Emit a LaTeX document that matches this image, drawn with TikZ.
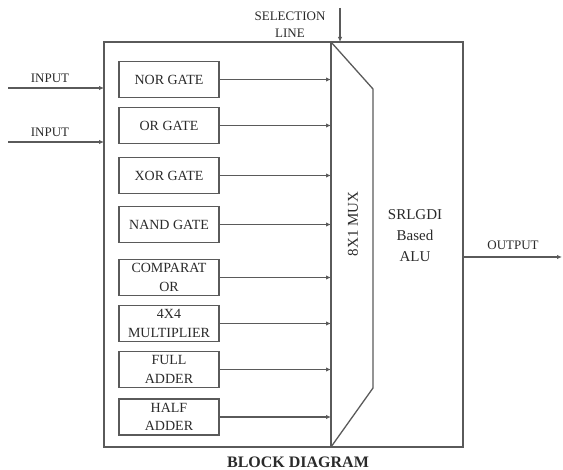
\documentclass[tikz,border=0pt]{standalone}
\usepackage{fontspec}
\setmainfont{Liberation Serif}
\usetikzlibrary{arrows.meta}
\definecolor{linegray}{HTML}{5A5A5A}
\definecolor{textgray}{HTML}{2A2A2A}
\begin{document}
\begin{tikzpicture}[x=1pt,y=-1pt,
  every node/.style={text=textgray},
  wire/.style={draw=linegray,line width=1.3pt},
  arr/.style={wire,-{Latex[length=5pt,width=4.5pt]}},
  gatebox/.style={draw=linegray,line width=1.3pt,minimum width=100pt,minimum height=36pt,
    inner sep=0pt,align=center,font=\fontsize{14}{18.5}\selectfont},
  lbl/.style={font=\fontsize{13}{17}\selectfont,inner sep=0pt,align=center}]
\useasboundingbox (0,0) rectangle (563,470);
% main frame
\coordinate (tl) at (104,42);
\coordinate (br) at (463,447);
\coordinate (muxtl) at (331,42);
\coordinate (muxbl) at (331,447);
\coordinate (muxtr) at (373,89);
\coordinate (muxbr) at (373,388);
\draw[wire] (tl) rectangle (br);
\draw[wire] (muxtl) -- (muxbl);
\draw[wire,line join=round] (muxtl) -- (muxtr) -- (muxbr) -- (muxbl);
% gates
\node[gatebox] (nor)  at (169,79.5) {NOR GATE};
\node[gatebox] (or)   at (169,125.5) {OR GATE};
\node[gatebox] (xor)  at (169,175.5) {XOR GATE};
\node[gatebox] (nand) at (169,224.5) {NAND GATE};
\node[gatebox] (comp) at (169,277.5) {COMPARAT\\OR};
\node[gatebox] (mult) at (169,323.5) {4X4\\MULTIPLIER};
\node[gatebox] (fa)   at (169,369.5) {FULL\\ADDER};
\node[gatebox] (ha)   at (169,417) {HALF\\ADDER};
\foreach \g in {nor,or,xor,nand,comp,mult,fa,ha}
  \draw[arr] (\g.east) -- (\g.east -| muxtl);
% inputs
\coordinate (in1) at (8,88);
\coordinate (in2) at (8,142);
\draw[arr] (in1) -- (in1 -| tl);
\draw[arr] (in2) -- (in2 -| tl);
\node[lbl] (inl1) at (50,78) {INPUT};
\node[lbl] (inl2) at (50,132) {INPUT};
% selection line
\coordinate (sel) at (340,8);
\draw[arr] (sel) -- (sel |- tl);
\node[lbl] (sell) at (290,24.5) {SELECTION\\LINE};
% mux and alu labels
\node[inner sep=0pt,rotate=90,font=\fontsize{15}{18}\selectfont] (mux) at (353,224) {8X1 MUX};
\node[inner sep=0pt,align=center,font=\fontsize{15}{21}\selectfont] (alu) at (415,236) {SRLGDI\\Based\\ALU};
% output
\coordinate (outs) at (463,257);
\coordinate (oute) at (562,257);
\draw[arr] (outs) -- (oute);
\node[lbl] (outl) at (513,245) {OUTPUT};
% caption
\node[inner sep=0pt,font=\fontsize{16}{18}\selectfont\bfseries] (cap) at (298,462) {BLOCK DIAGRAM};
\end{tikzpicture}
\end{document}
